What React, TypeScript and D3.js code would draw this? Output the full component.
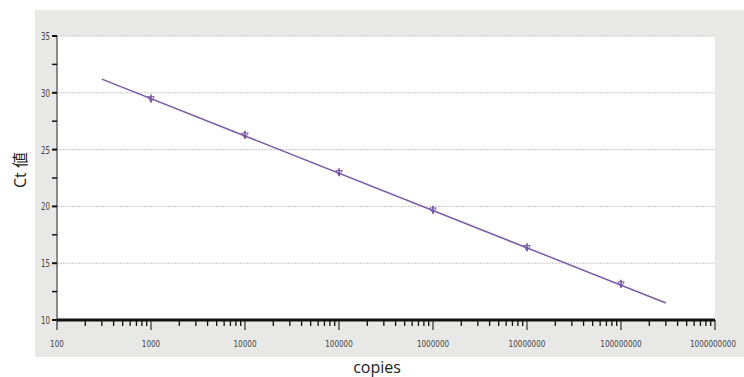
import React, { useRef, useEffect } from 'react';
import * as d3 from 'd3';

// standard curve: copies vs Ct
const copies = [1000, 10000, 100000, 1000000, 10000000, 100000000];
const ctValues = [29.5, 26.3, 23.0, 19.7, 16.4, 13.2];
// fitted line end points
const fitCopies = [300, 300000000];
const fitCt = [31.2, 11.5];
const yTicks = [10, 15, 20, 25, 30, 35];
const xTickLabels = ['100', '1000', '10000', '100000', '1000000', '10000000', '100000000', '1000000000'];

const W = 744;
const H = 377;

const App = () => {
  const svgRef = useRef<SVGSVGElement>(null);

  useEffect(() => {
    const svg = d3.select(svgRef.current);
    svg.selectAll('*').remove();

    const left = 57, right = 715, top = 36, bottom = 320;
    const x = d3.scaleLog().domain([100, 1e9]).range([left, right]);
    const y = d3.scaleLinear().domain([10, 35]).range([bottom, top]);

    // grey panel + white plot
    svg.append('rect').attr('x', 35).attr('y', 10).attr('width', W - 35).attr('height', 347).attr('fill', '#e8e9e7');
    svg.append('rect').attr('x', left).attr('y', top).attr('width', right - left).attr('height', bottom - top).attr('fill', '#fff');

    // grid
    svg.selectAll('.grid').data(yTicks.filter(d => d > 10)).enter()
      .append('line')
      .attr('x1', left).attr('x2', right)
      .attr('y1', d => y(d)).attr('y2', d => y(d))
      .attr('stroke', '#c4c4c4').attr('stroke-width', 1).attr('stroke-dasharray', '2,1');

    // y axis
    svg.append('line').attr('x1', left).attr('x2', left).attr('y1', top).attr('y2', bottom + 2)
      .attr('stroke', '#8a8a8a').attr('stroke-width', 2);
    const yMinor = d3.range(10, 35.1, 2.5);
    svg.selectAll('.ytick').data(yMinor).enter()
      .append('line')
      .attr('x1', left - 5).attr('x2', left)
      .attr('y1', d => y(d)).attr('y2', d => y(d))
      .attr('stroke', '#111').attr('stroke-width', d => (d % 5 === 0 ? 2 : 1.5));
    svg.selectAll('.ylab').data(yTicks).enter()
      .append('text')
      .attr('x', left - 7).attr('y', d => y(d) + 4)
      .attr('text-anchor', 'end')
      .attr('font-family', 'DejaVu Sans Condensed, DejaVu Sans')
      .attr('font-size', 10)
      .attr('textLength', 9).attr('lengthAdjust', 'spacingAndGlyphs')
      .attr('fill', '#444')
      .text(d => d);

    // x axis
    const decades = d3.range(2, 10).map(e => Math.pow(10, e));
    const minor: number[] = [];
    decades.slice(0, -1).forEach(d => { for (let k = 2; k <= 9; k++) minor.push(d * k); });
    svg.selectAll('.xminor').data(minor).enter()
      .append('line')
      .attr('x1', d => x(d)).attr('x2', d => x(d))
      .attr('y1', bottom).attr('y2', bottom + 6)
      .attr('stroke', '#111').attr('stroke-width', 1.3);
    svg.selectAll('.xmajor').data(decades).enter()
      .append('line')
      .attr('x1', d => x(d)).attr('x2', d => x(d))
      .attr('y1', bottom).attr('y2', bottom + 10)
      .attr('stroke', '#555').attr('stroke-width', 1.5);
    svg.append('line').attr('x1', left).attr('x2', right).attr('y1', bottom).attr('y2', bottom)
      .attr('stroke', '#111').attr('stroke-width', 3);
    svg.selectAll('.xlab').data(decades).enter()
      .append('text')
      .attr('x', (d, i) => (i === decades.length - 1 ? x(d) - 2 : x(d))).attr('y', bottom + 27)
      .attr('text-anchor', 'middle')
      .attr('font-family', 'DejaVu Sans Condensed, DejaVu Sans')
      .attr('font-size', 9)
      .attr('textLength', (d, i) => xTickLabels[i].length * 4.6)
      .attr('lengthAdjust', 'spacingAndGlyphs')
      .attr('fill', '#444')
      .text((d, i) => xTickLabels[i]);

    // fitted line
    const line = d3.line<number>().x((d, i) => x(fitCopies[i])).y(d => y(d));
    svg.append('path').attr('d', line(fitCt))
      .attr('fill', 'none').attr('stroke', '#7b5aa8').attr('stroke-width', 1.5);

    // points
    const pts = svg.selectAll('.pt').data(copies).enter().append('g')
      .attr('transform', (d, i) => `translate(${x(d)},${y(ctValues[i])})`);
    pts.append('line').attr('x1', 0).attr('x2', 0).attr('y1', -4).attr('y2', 4)
      .attr('stroke', '#6a4a9a').attr('stroke-width', 1.5);
    pts.append('path').attr('d', d3.symbol(d3.symbolTriangle, 18)())
      .attr('transform', 'rotate(180)')
      .attr('fill', 'none').attr('stroke', '#7b5aa8').attr('stroke-width', 1);

    // axis titles
    svg.append('text').attr('x', 377).attr('y', 373).attr('text-anchor', 'middle')
      .attr('font-family', 'Open Sans, Noto Sans').attr('font-size', 16).attr('fill', '#222')
      .text('copies');
    svg.append('text').attr('transform', 'translate(26,170) rotate(-90)').attr('text-anchor', 'middle')
      .attr('font-family', 'Open Sans, Noto Sans CJK JP').attr('font-size', 16).attr('fill', '#222')
      .text('Ct 値');
  }, []);

  return (
    <svg ref={svgRef} width={W} height={H} style={{ position: 'absolute', left: 0, top: 0 }}></svg>
  );
};

export default App;
